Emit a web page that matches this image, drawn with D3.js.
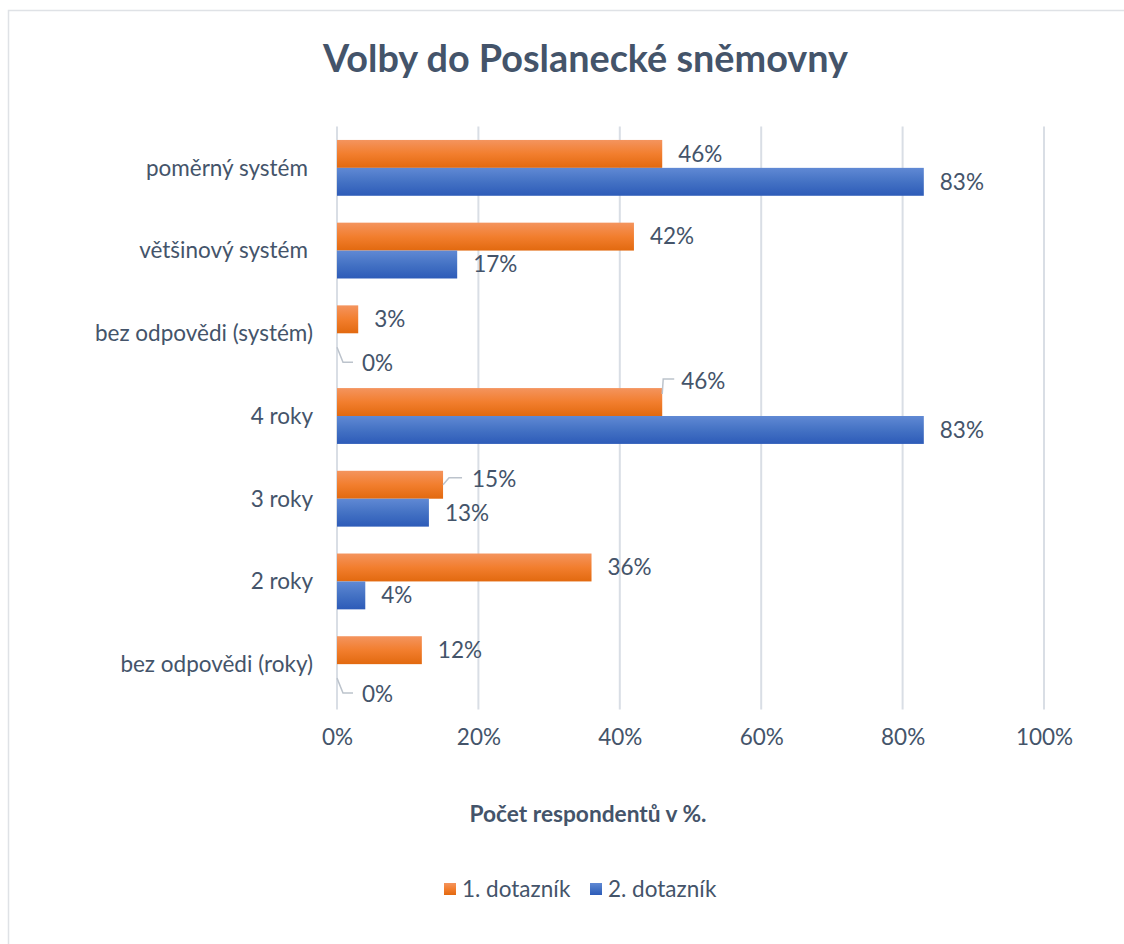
<!DOCTYPE html>
<html><head><meta charset="utf-8">
<script src="https://cdn.jsdelivr.net/npm/d3@7"></script>
<style>
html,body{margin:0;padding:0;background:#fff;}
svg{display:block;}
text{font-family:Lato,"Open Sans",sans-serif;fill:#44546a;}
</style></head>
<body>
<svg id="chart" width="1124" height="944"></svg>
<script>
const categories = ["poměrný systém", "většinový systém", "bez odpovědi (systém)", "4 roky", "3 roky", "2 roky", "bez odpovědi (roky)"];
const series1 = [46, 42, 3, 46, 15, 36, 12];
const series2 = [83, 17, 0, 83, 13, 4, 0];
const seriesNames = ["1. dotazník", "2. dotazník"];
const xTicks = [0, 20, 40, 60, 80, 100];
const title = "Volby do Poslanecké sněmovny";
const axisTitle = "Počet respondentů v %.";

const svg = d3.select("#chart");
const defs = svg.append("defs");
function grad(id, stops){
  const g = defs.append("linearGradient").attr("id", id).attr("x1",0).attr("y1",0).attr("x2",0).attr("y2",1);
  stops.forEach(s => g.append("stop").attr("offset", s[0]).attr("stop-color", s[1]));
}
grad("gO", [[0,"#f4945e"],[0.5,"#f27e2e"],[1,"#e2690f"]]);
grad("gB", [[0,"#6089d4"],[0.5,"#4472c4"],[1,"#2d5bb8"]]);
const fills = ["url(#gO)", "url(#gB)"];

svg.append("path").attr("d","M8.5,1000 V10.5 H1200").attr("fill","none").attr("stroke","#dfe2e6").attr("stroke-width",1.5);

const m = {left:337, right:1044, top:126.5, bottom:705.5};
const x = d3.scaleLinear().domain([0,100]).range([m.left, m.right]);
const y = d3.scaleBand().domain(categories).range([m.top, m.bottom]).paddingInner(0.325).paddingOuter(0.1625);
const sub = d3.scaleBand().domain([0,1]).range([0, y.bandwidth()]);

function fit(sel, w){
  const n = sel.node(); const fs = parseFloat(n.style.fontSize);
  const cw = n.getComputedTextLength();
  sel.style("font-size", (fs*w/cw).toFixed(2)+"px");
}

const t = svg.append("text").attr("x",585.5).attr("y",72).attr("text-anchor","middle")
  .style("font-size","36px").style("font-weight","bold").text(title);
fit(t, 525);

svg.append("g").selectAll("line").data(xTicks).join("line")
  .attr("x1", d=>x(d)).attr("x2", d=>x(d)).attr("y1", m.top).attr("y2", m.bottom+4)
  .attr("stroke","#d9dee5").attr("stroke-width",2);

const FS = "22.5px";
const xAxis = d3.axisBottom(x).tickValues(xTicks).tickFormat(d=>d+"%").tickSize(0).tickPadding(0);
const gx = svg.append("g").attr("transform",`translate(0,${m.bottom+24})`).call(xAxis);
gx.select(".domain").remove();
gx.selectAll("text").style("font-size",FS).style("font-family","Lato").attr("fill","#44546a").attr("dy","0.7em");

const yAxis = d3.axisLeft(y).tickSize(0).tickPadding(0);
const gy = svg.append("g").attr("transform",`translate(${m.left-24},0)`).call(yAxis);
gy.select(".domain").remove();
gy.selectAll("text").style("font-size",FS).style("font-family","Lato").attr("fill","#44546a").attr("dy","0.35em")
  .attr("dx", d => d.indexOf("systém") >= 0 && d.indexOf("(") < 0 ? "-5" : "0");

const data = [];
categories.forEach((c,i)=>{ data.push({c, s:0, v:series1[i]}); data.push({c, s:1, v:series2[i]}); });

svg.append("g").selectAll("rect").data(data).join("rect")
  .attr("x", x(0)).attr("y", d=>y(d.c)+sub(d.s))
  .attr("width", d=>x(d.v)-x(0)).attr("height", sub.bandwidth())
  .attr("fill", d=>fills[d.s]);

const lbl = svg.append("g");
const leaderStroke = "#bcc3cc";
data.forEach(d=>{
  const yc = y(d.c)+sub(d.s)+sub.bandwidth()/2;
  const xe = x(d.v);
  let tx = xe+16, ty = yc;
  if (d.v === 0){
    tx = xe+25; ty = yc+16;
    lbl.append("path").attr("d",`M${xe},${yc} L${xe+6},${ty-1} H${xe+16}`)
      .attr("fill","none").attr("stroke",leaderStroke).attr("stroke-width",1.5);
  } else if (d.c==="4 roky" && d.s===0){
    tx = xe+19; ty = yc-21;
    lbl.append("path").attr("d",`M${xe},${yc-8} L${xe+1},${ty-2} H${xe+12}`)
      .attr("fill","none").attr("stroke",leaderStroke).attr("stroke-width",1.5);
  } else if (d.c==="3 roky" && d.s===0){
    tx = xe+29; ty = yc-6;
    lbl.append("path").attr("d",`M${xe},${yc} L${xe+6},${ty-1} H${xe+19}`)
      .attr("fill","none").attr("stroke",leaderStroke).attr("stroke-width",1.5);
  }
  lbl.append("text").attr("x",tx).attr("y",ty).attr("dy","0.35em")
    .style("font-size",FS).text(d.v+"%");
});

const at = svg.append("text").attr("x",588).attr("y",822).attr("text-anchor","middle")
  .style("font-size","18px").style("font-weight","bold").text(axisTitle);
fit(at, 237);

const leg = svg.append("g");
const legX = [444, 590];
seriesNames.forEach((n,i)=>{
  leg.append("rect").attr("x",legX[i]).attr("y",883).attr("width",12).attr("height",12).attr("fill",fills[i]);
  leg.append("text").attr("x",legX[i]+18).attr("y",889).attr("dy","0.35em").style("font-size",FS).text(n);
});
</script>
</body></html>
